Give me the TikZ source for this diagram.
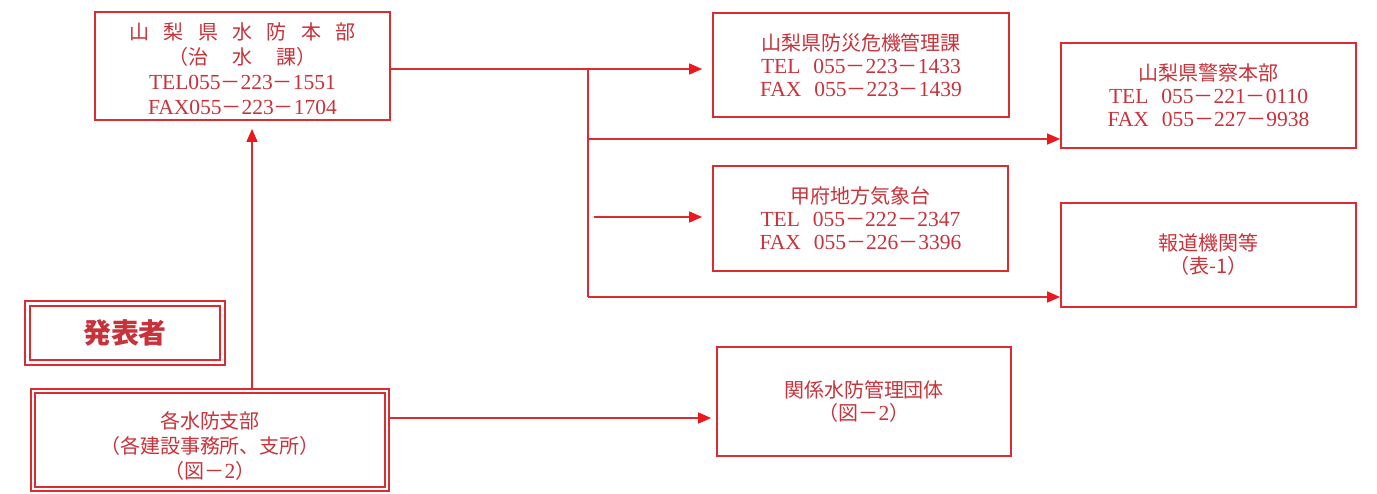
\documentclass[tikz,border=0pt]{standalone}
\usepackage{fontspec}
\setmainfont{Liberation Serif}
\newfontfamily\jp[Scale=0.93]{Noto Sans CJK JP}
\usetikzlibrary{arrows.meta,calc}
\definecolor{txtred}{RGB}{200,50,58}
\definecolor{linered}{RGB}{218,45,50}
\definecolor{tipred}{RGB}{235,25,30}
\newcommand\fwm{{\jp －}}
\tikzset{
  boxnode/.style={draw=linered, line width=1.8pt, inner sep=0pt, text=txtred, align=center,
     font=\fontsize{21.5}{23}\selectfont},
  arr/.style={draw=linered, line width=1.6pt, -{Triangle[length=13pt,width=11pt,color=tipred]}},
  conn/.style={draw=linered, line width=1.6pt},
  innerbox/.style={draw=linered, line width=1.9pt},
}
\begin{document}
\begin{tikzpicture}[x=1pt,y=-1pt]
\useasboundingbox (0,0) rectangle (1377,493);

\node[boxnode, minimum width=295pt, minimum height=108pt, font=\fontsize{21.5}{25}\selectfont] (hq) at (242.5,66)
 {\rule{0pt}{22pt}{\jp 山\hspace{0.72em}梨\hspace{0.72em}県\hspace{0.72em}水\hspace{0.72em}防\hspace{0.72em}本\hspace{0.72em}部}\\
  {\jp （治\hspace{1.2em}水\hspace{1.2em}課）}\\
  TEL055\fwm 223\fwm 1551\\
  FAX055\fwm 223\fwm 1704};

\node[boxnode, minimum width=296pt, minimum height=104pt] (bosai) at (861,65)
 {{\jp 山梨県防災危機管理課}\\
  TEL\hspace{0.6em}055\fwm 223\fwm 1433\\
  FAX\hspace{0.6em}055\fwm 223\fwm 1439};

\node[boxnode, minimum width=295pt, minimum height=105pt] (police) at (1208.5,95.5)
 {{\jp 山梨県警察本部}\\
  TEL\hspace{0.6em}055\fwm 221\fwm 0110\\
  FAX\hspace{0.6em}055\fwm 227\fwm 9938};

\node[boxnode, minimum width=295pt, minimum height=105pt] (kisho) at (860.5,218.5)
 {{\jp 甲府地方気象台}\\
  TEL\hspace{0.6em}055\fwm 222\fwm 2347\\
  FAX\hspace{0.6em}055\fwm 226\fwm 3396};

\node[boxnode, minimum width=295pt, minimum height=104pt] (hodo) at (1208.5,255)
 {{\jp 報道機関等}\\
  {\jp （表-1）}};

\node[boxnode, minimum width=294pt, minimum height=109pt] (kankei) at (864,401.5)
 {{\jp 関係水防管理団体}\\
  {\jp （図}\fwm 2{\jp ）}};

\node[boxnode, line width=2.8pt, minimum width=200pt, minimum height=64pt,
      font=\fontsize{30}{30}\selectfont] (happyo) at (125,333)
 {{\jp\bfseries 発表者}};
\draw[innerbox] ([shift={(6pt,-6pt)}]happyo.north west) rectangle ([shift={(-6pt,6pt)}]happyo.south east);

\node[boxnode, line width=2.8pt, minimum width=358pt, minimum height=102pt,
      font=\fontsize{21.5}{25}\selectfont] (shibu) at (210,440)
 {\rule{0pt}{28pt}{\jp 各水防支部}\\
  {\jp （各建設事務所、支所）}\\
  {\jp （図}\fwm 2{\jp ）}};
\draw[innerbox] ([shift={(5pt,-5pt)}]shibu.north west) rectangle ([shift={(-5pt,5pt)}]shibu.south east);

% connectors
\coordinate (j1) at (588,69);
\coordinate (j3) at (588,139);
\coordinate (j2) at (588,297);
\coordinate (k0) at (594,217);
\coordinate (u0) at (252,389);
\coordinate (b0) at (390,418);

\draw[arr] (hq.east |- j1) -- ([xshift=-10pt]bosai.west |- j1);
\draw[conn] (j1) -- (j2);
\draw[arr] (j3) -- (police.west |- j3);
\draw[arr] (j2) -- (hodo.west |- j2);
\draw[arr] (k0) -- ([xshift=-10pt]kisho.west |- k0);
\draw[arr] (u0) -- ([yshift=-8pt]hq.south -| u0);
\draw[arr] (b0) -- ([xshift=-5pt]kankei.west |- b0);
\end{tikzpicture}
\end{document}
